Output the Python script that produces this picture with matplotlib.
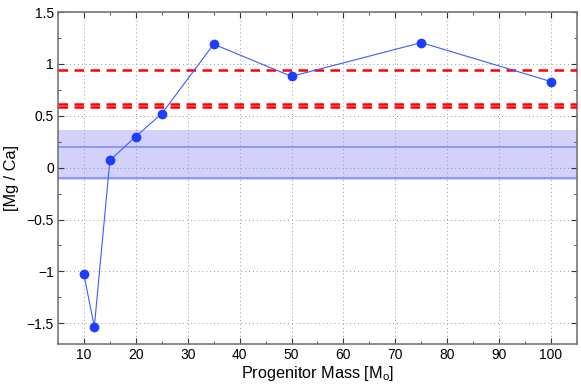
# [Mg/Ca] vs progenitor mass
import matplotlib.pyplot as plt
import numpy as np

plt.rcParams['font.family'] = ['Liberation Sans', 'DejaVu Sans']

# model yields
mass = [10, 12, 15, 20, 25, 35, 50, 75, 100]
mgca = [-1.03, -1.535, 0.07, 0.30, 0.52, 1.19, 0.88, 1.205, 0.83]

# observed values (red dashed) and the blue band
obs_lines = [0.94, 0.61, 0.58]
band_lo, band_hi = -0.12, 0.36
band_lines = [0.2, -0.1]

xticks = [10, 20, 30, 40, 50, 60, 70, 80, 90, 100]
yticks = [-1.5, -1, -0.5, 0, 0.5, 1, 1.5]
yticklabels = ['\u22121.5', '\u22121', '\u22120.5', '0', '0.5', '1', '1.5']

fig = plt.figure(figsize=(5.81, 3.88), dpi=100)
ax = fig.add_axes([0.0998, 0.1134, 0.8932, 0.8556])

ax.axhspan(band_lo, band_hi, color='#d2d2fd', lw=0, zorder=1)
for y in band_lines:
    ax.axhline(y, color='#7f8dfb', lw=1.2, zorder=2)
for y in obs_lines:
    ax.axhline(y, color='#ff0000', lw=1.8, ls=(0, (3.8, 2.6)), zorder=3)

ax.plot(mass, mgca, '-', color='#3d5cff', lw=0.8, zorder=4)
ax.plot(mass, mgca, 'o', color='#1f3dff', ms=6, mec='#1f3dff', zorder=5)

ax.set_xlim(5, 105)
ax.set_ylim(-1.7, 1.5)
ax.set_xticks(xticks)
ax.set_xticks(np.arange(5, 106, 5), minor=True)
ax.set_yticks(yticks)
ax.set_yticklabels(yticklabels)
ax.set_yticks(np.arange(-1.5, 1.51, 0.25), minor=True)
ax.tick_params(which='both', direction='in', top=True, right=True, labelsize=10, color='#333333')
ax.tick_params(which='major', length=4, pad=3)
ax.tick_params(which='minor', length=2)
ax.grid(True, which='major', ls=(0, (1, 3)), color='#999999', lw=0.7)
for s in ax.spines.values():
    s.set_color('#777777')
    s.set_linewidth(1.2)

ax.set_xlabel('Progenitor Mass [M$_\\mathregular{o}$]', fontsize=11.7, labelpad=1)
ax.set_ylabel('[Mg / Ca]', fontsize=11.7, labelpad=5)

fig.savefig('out.png', dpi=100)
plt.close(fig)
